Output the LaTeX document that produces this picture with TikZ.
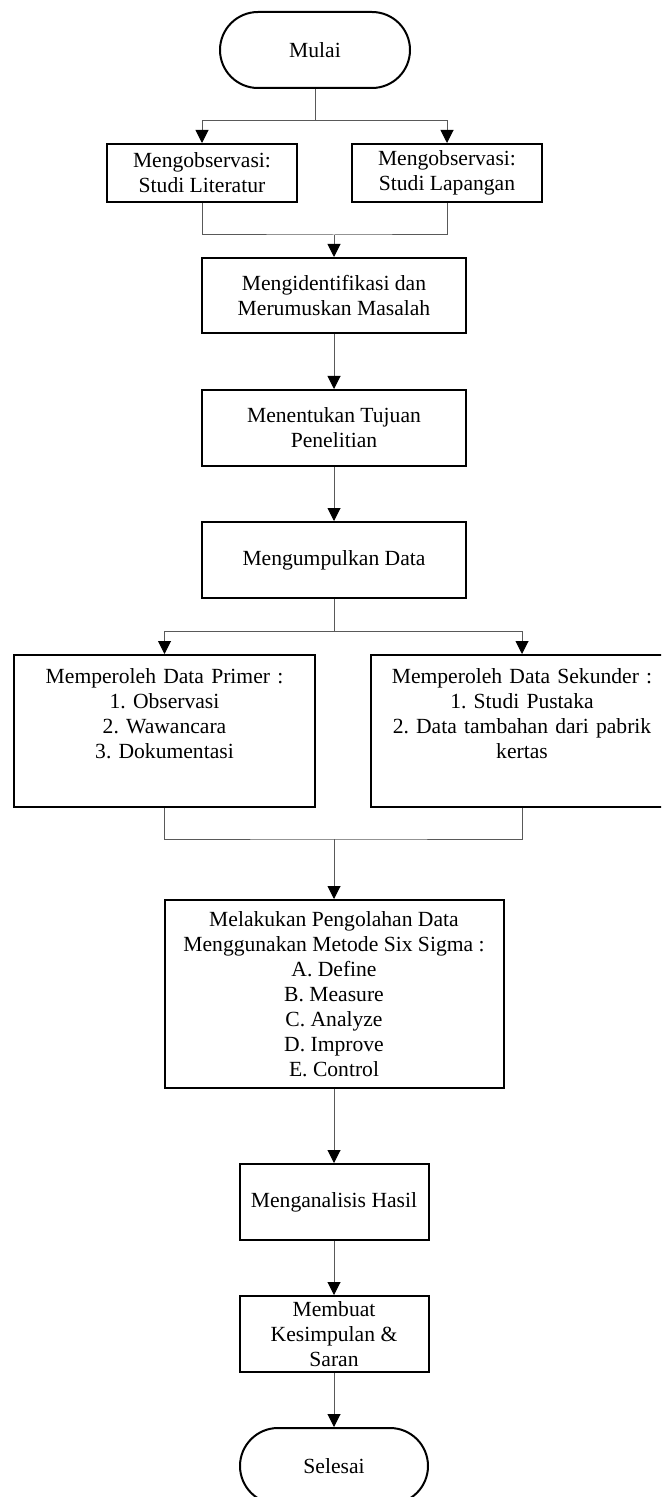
\documentclass[tikz,border=0pt]{standalone}
\usepackage{fontspec}
\setmainfont{Liberation Serif}
\frenchspacing
\usetikzlibrary{arrows.meta}
\tikzset{
  kotak/.style={draw=black, line width=1pt, align=center, inner sep=2pt, font=\fontsize{10.8}{12.5}\selectfont},
  terminal/.style={kotak, rounded corners=19pt, minimum width=95pt, minimum height=38pt},
  garis/.style={draw=black!65, line width=0.5pt},
  panah/.style={garis, -{Triangle[width=6.5pt,length=6.5pt,color=black]}}
}
\begin{document}
\begin{tikzpicture}[x=0.5pt,y=-0.5pt]
\useasboundingbox (0,0) rectangle (661,1497);
\clip (0,0) rectangle (661,1497);
\node[terminal] (mulai) at (315,50) {Mulai};
\node[kotak, minimum width=95pt, minimum height=29pt] (literatur) at (202,173) {Mengobservasi:\\Studi Literatur};
\node[kotak, minimum width=95pt, minimum height=29pt] (lapangan) at (447,173) {Mengobservasi:\\Studi Lapangan};
\node[kotak, minimum width=132pt, minimum height=37.5pt] (identifikasi) at (334,295.5) {Mengidentifikasi dan\\Merumuskan Masalah};
\node[kotak, minimum width=132pt, minimum height=38pt] (tujuan) at (334,428) {Menentukan Tujuan\\Penelitian};
\node[kotak, minimum width=132pt, minimum height=38pt] (kumpul) at (334,560) {Mengumpulkan Data};
\node[kotak, anchor=north, inner sep=0pt, text width=150.5pt, text height=14pt, text depth=62pt] (primer) at (164.5,654) {Memperoleh Data Primer :\\1. Observasi\\2. Wawancara\\3. Dokumentasi};
\node[kotak, anchor=north, inner sep=0pt, text width=151pt, text height=14pt, text depth=62pt] (sekunder) at (522,654) {Memperoleh Data Sekunder :\\1. Studi Pustaka\\2. Data tambahan dari pabrik\\kertas};
\node[kotak, minimum width=169.5pt, minimum height=94pt] (sigma) at (334,994) {Melakukan Pengolahan Data\\Menggunakan Metode Six Sigma :\\A. Define\\B. Measure\\C. Analyze\\D. Improve\\E. Control};
\node[kotak, minimum width=94.5pt, minimum height=38pt] (analisis) at (334,1202) {Menganalisis Hasil};
\node[kotak, minimum width=94.5pt, minimum height=38pt] (simpulan) at (334,1334) {Membuat\\Kesimpulan \&\\Saran};
\node[terminal, minimum width=94pt] (selesai) at (334,1466) {Selesai};
\coordinate (pisah1) at (315,121);
\coordinate (gabung1) at (334,235);
\coordinate (pisah2) at (334,631);
\coordinate (gabung2) at (334,839);
\draw[garis] (mulai) -- (pisah1);
\draw[panah] (pisah1) -| (literatur);
\draw[panah] (pisah1) -| (lapangan);
\draw[garis] (literatur.south) |- (gabung1) -| (lapangan.south);
\draw[panah] (gabung1) -- (identifikasi);
\draw[panah] (identifikasi) -- (tujuan);
\draw[panah] (tujuan) -- (kumpul);
\draw[garis] (kumpul) -- (pisah2);
\draw[panah] (pisah2) -| (primer);
\draw[panah] (pisah2) -| (sekunder);
\draw[garis] (primer.south) |- (gabung2) -| (sekunder.south);
\draw[panah] (gabung2) -- (sigma);
\draw[panah] (sigma) -- (analisis);
\draw[panah] (analisis) -- (simpulan);
\draw[panah] (simpulan) -- (selesai);
\end{tikzpicture}
\end{document}
